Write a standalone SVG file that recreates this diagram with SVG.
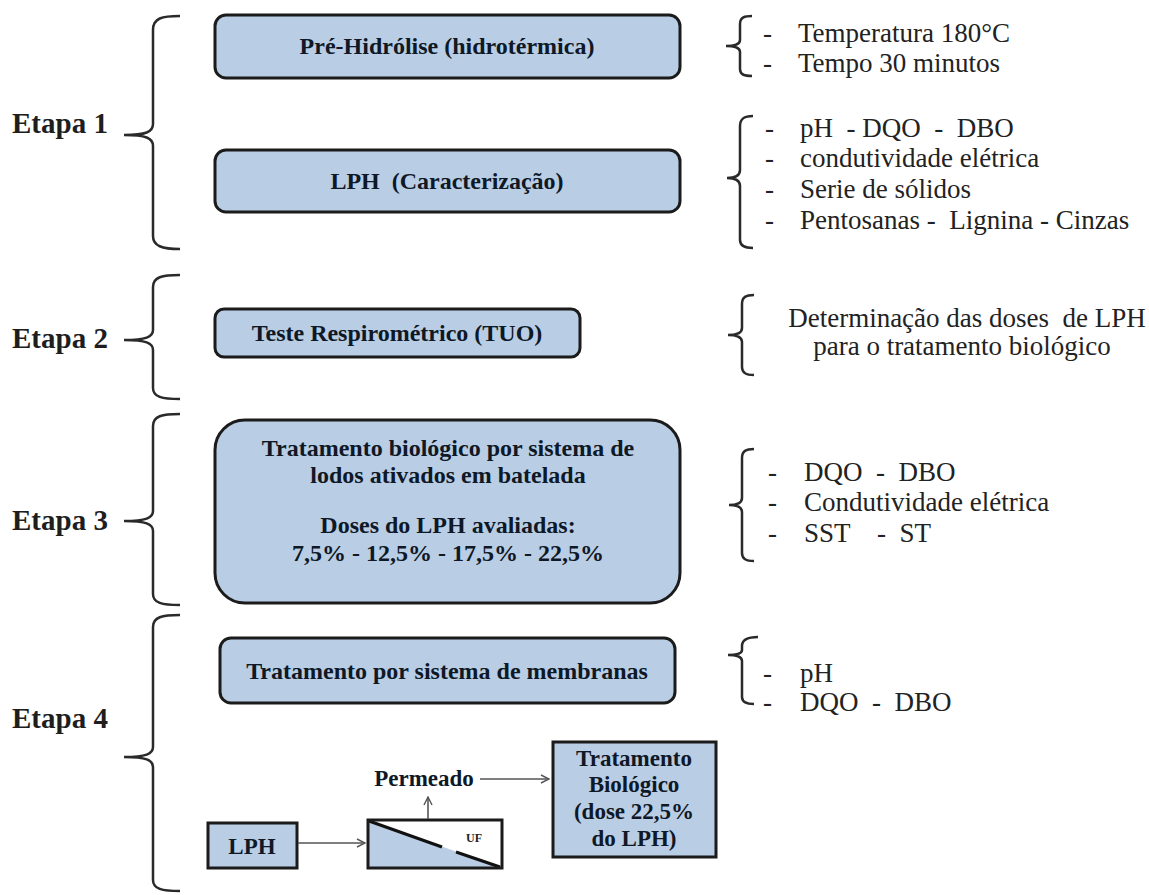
<svg xmlns="http://www.w3.org/2000/svg" width="1149" height="895" viewBox="0 0 1149 895">
  <style>
    text { font-family: "Liberation Serif", "Tinos", "Times New Roman", "Noto Serif", "DejaVu Serif", serif; }
    .box { fill: #b9cde5; stroke: #1b1b1b; stroke-width: 3; }
    .bt { font-weight: bold; font-size: 24px; fill: #0e1826; text-anchor: middle; }
    .sm { font-size: 23px; }
    .lbl { font-weight: bold; font-size: 29px; fill: #1e1e1e; }
    .lst { font-size: 27px; fill: #222; }
    .brace { fill: none; stroke: #2a2a2a; stroke-width: 2.5; }
    .arr { fill: none; stroke: #555; stroke-width: 1.6; }
  </style>
  <defs>
    <marker id="open" viewBox="0 0 10 10" refX="9" refY="5" markerWidth="10" markerHeight="10" markerUnits="userSpaceOnUse" orient="auto">
      <path d="M1,1 L9,5 L1,9" fill="none" stroke="#555" stroke-width="1.4"/>
    </marker>
  </defs>
  <rect width="1149" height="895" fill="#ffffff"/>

  <!-- stage labels -->
  <g id="labels">
    <text class="lbl" x="12" y="133">Etapa 1</text>
    <text class="lbl" x="12" y="348">Etapa 2</text>
    <text class="lbl" x="12" y="530">Etapa 3</text>
    <text class="lbl" x="12" y="728">Etapa 4</text>
  </g>

  <!-- left braces grouping each stage -->
  <g id="stage-braces">
    <path class="brace" d="M180,16 C162,16 153,18 153,30 L153,124 C153,132 146,135 124,135 C146,135 153,138 153,146 L153,236 C153,246 162,249 180,249"/>
    <path class="brace" d="M180,275 C162,275 153,277 153,287 L153,330 C153,337 146,340 124,340 C146,340 153,343 153,350 L153,388 C153,397 162,399 180,399"/>
    <path class="brace" d="M180,414 C162,414 153,416 153,426 L153,511 C153,518 146,521 124,521 C146,521 153,524 153,531 L153,594 C153,603 162,605 180,605"/>
    <path class="brace" d="M180,615 C162,615 153,617 153,627 L153,747 C153,754 146,757 124,757 C146,757 153,760 153,767 L153,880 C153,889 162,891 180,891"/>
  </g>

  <!-- stage 1 -->
  <g id="pre-hidrolise">
    <rect class="box" x="215" y="15" width="465" height="63" rx="11"/>
    <text class="bt" x="447" y="54">Pré-Hidrólise (hidrotérmica)</text>
  </g>
  <g id="lph-caracterizacao">
    <rect class="box" x="215" y="150" width="465" height="62" rx="11"/>
    <text class="bt" x="447" y="189" xml:space="preserve">LPH  (Caracterização)</text>
  </g>

  <!-- stage 2 -->
  <g id="teste-respirometrico">
    <rect class="box" x="215" y="309" width="365" height="48" rx="9"/>
    <text class="bt" x="397" y="341">Teste Respirométrico (TUO)</text>
  </g>

  <!-- stage 3 -->
  <g id="tratamento-biologico">
    <rect class="box" x="215" y="420" width="465" height="183" rx="30"/>
    <text class="bt" x="448" y="456">Tratamento biológico por sistema de</text>
    <text class="bt" x="448" y="483">lodos ativados em batelada</text>
    <text class="bt" x="448" y="533">Doses do LPH avaliadas:</text>
    <text class="bt" x="448" y="561">7,5% - 12,5% - 17,5% - 22,5%</text>
  </g>

  <!-- stage 4 -->
  <g id="membranas">
    <rect class="box" x="220" y="638" width="455" height="65" rx="11"/>
    <text class="bt" x="447" y="679">Tratamento por sistema de membranas</text>
  </g>
  <g id="lph">
    <rect class="box" x="208" y="823" width="89" height="45"/>
    <text class="bt sm" x="252" y="854">LPH</text>
  </g>
  <g id="uf">
    <rect x="368" y="820" width="134" height="48" fill="#ffffff"/>
    <polygon points="368,820 502,868 368,868" fill="#b9cde5"/>
    <line x1="369" y1="821" x2="442" y2="847" stroke="#111" stroke-width="3"/>
    <line x1="456" y1="852" x2="500" y2="867" stroke="#111" stroke-width="3"/>
    <rect x="368" y="820" width="134" height="48" fill="none" stroke="#1b1b1b" stroke-width="3"/>
    <text x="466" y="842" font-weight="bold" font-size="12" fill="#222">UF</text>
  </g>
  <g id="permeado">
    <text class="bt sm" x="424" y="786">Permeado</text>
  </g>
  <g id="tratamento-final">
    <rect class="box" x="553" y="742" width="163" height="115"/>
    <text class="bt sm" x="634" y="766">Tratamento</text>
    <text class="bt sm" x="634" y="792">Biológico</text>
    <text class="bt sm" x="634" y="819">(dose 22,5%</text>
    <text class="bt sm" x="634" y="846">do LPH)</text>
  </g>

  <!-- flow arrows -->
  <g id="connectors">
    <line class="arr" x1="298" y1="843" x2="365" y2="843" marker-end="url(#open)"/>
    <line class="arr" x1="428" y1="819" x2="428" y2="797" marker-end="url(#open)"/>
    <line class="arr" x1="480" y1="779" x2="549" y2="779" marker-end="url(#open)"/>
  </g>

  <!-- parameter braces -->
  <g id="param-braces">
    <path class="brace" d="M752,16 C745,16 740,17 740,24 L740,40 C740,44 736,46 726,46 C736,46 740,48 740,52 L740,69 C740,75 745,76 752,76"/>
    <path class="brace" d="M753,116 C745,116 740,118 740,126 L740,170 C740,175 736,178 727,178 C736,178 740,181 740,186 L740,240 C740,246 745,248 753,248"/>
    <path class="brace" d="M754,295 C746,295 742,297 742,304 L742,328 C742,332 738,335 728,335 C738,335 742,338 742,342 L742,367 C742,373 746,375 754,375"/>
    <path class="brace" d="M754,449 C746,449 742,451 742,458 L742,498 C742,502 738,505 729,505 C738,505 742,508 742,512 L742,553 C742,559 746,561 754,561"/>
    <path class="brace" d="M758,637 C748,637 742,639 742,646 L742,650 C742,653 738,655 728,655 C738,655 742,657 742,661 L742,697 C742,702 746,704 754,704"/>
  </g>

  <!-- parameter lists -->
  <g id="param-1">
    <text class="lst" x="763" y="42">-</text>
    <text class="lst" x="798" y="42">Temperatura 180°C</text>
    <text class="lst" x="763" y="72">-</text>
    <text class="lst" x="798" y="72">Tempo 30 minutos</text>
  </g>
  <g id="param-2">
    <text class="lst" x="765" y="137">-</text>
    <text class="lst" x="800" y="137" xml:space="preserve">pH  - DQO  -  DBO</text>
    <text class="lst" x="765" y="167">-</text>
    <text class="lst" x="800" y="167">condutividade elétrica</text>
    <text class="lst" x="765" y="198">-</text>
    <text class="lst" x="800" y="198">Serie de sólidos</text>
    <text class="lst" x="765" y="229">-</text>
    <text class="lst" x="800" y="229" xml:space="preserve">Pentosanas -  Lignina - Cinzas</text>
  </g>
  <g id="param-3">
    <text class="lst" x="967" y="327" text-anchor="middle" xml:space="preserve">Determinação das doses  de LPH</text>
    <text class="lst" x="962" y="355" text-anchor="middle">para o tratamento biológico</text>
  </g>
  <g id="param-4">
    <text class="lst" x="768" y="481">-</text>
    <text class="lst" x="804" y="481" xml:space="preserve">DQO  -  DBO</text>
    <text class="lst" x="768" y="511">-</text>
    <text class="lst" x="804" y="511">Condutividade elétrica</text>
    <text class="lst" x="768" y="542">-</text>
    <text class="lst" x="804" y="542" xml:space="preserve">SST    -  ST</text>
  </g>
  <g id="param-5">
    <text class="lst" x="763" y="682">-</text>
    <text class="lst" x="800" y="682">pH</text>
    <text class="lst" x="763" y="711">-</text>
    <text class="lst" x="800" y="711" xml:space="preserve">DQO  -  DBO</text>
  </g>
</svg>
